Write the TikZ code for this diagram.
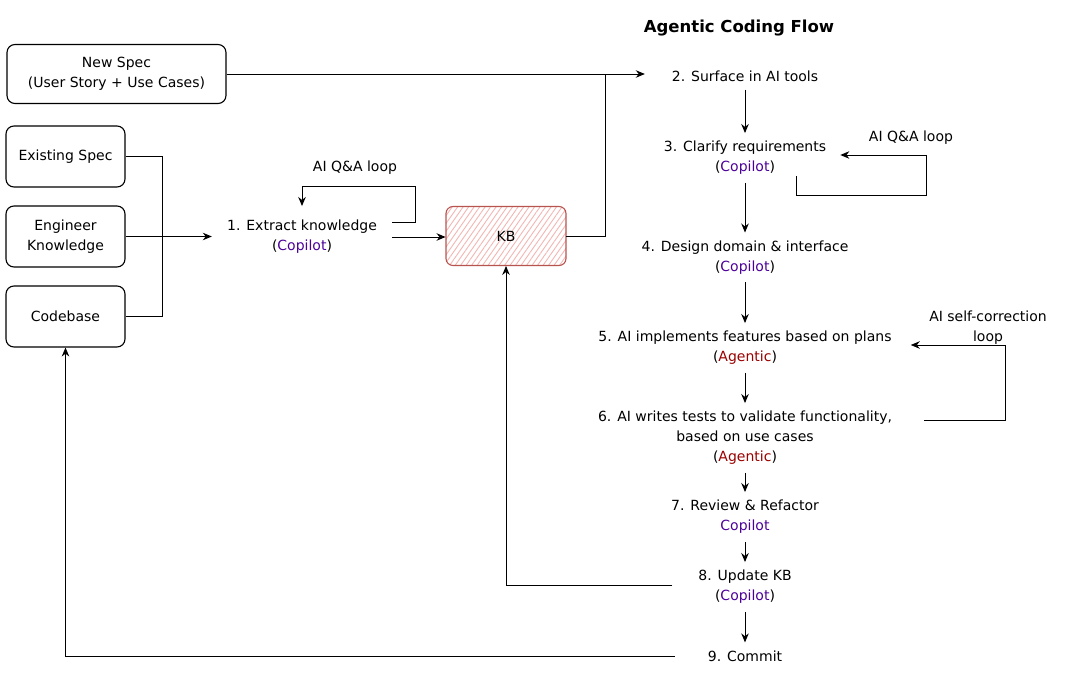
\documentclass[tikz,border=0pt]{standalone}
\usepackage{fontspec}
\setmainfont{DejaVu Sans}
\usetikzlibrary{positioning,calc,arrows.meta,patterns.meta}

\definecolor{copilotpurple}{HTML}{4C0099}
\definecolor{agenticred}{HTML}{990000}
\definecolor{kbborder}{HTML}{B85450}
\definecolor{kbhatch}{HTML}{F2B6B3}

\newcommand{\copilot}{\textcolor{copilotpurple}{Copilot}}
\newcommand{\agentic}{\textcolor{agenticred}{Agentic}}

\tikzset{
  specbox/.style={draw, rounded corners=8pt, line width=1.1pt, align=center,
    minimum width=119pt, minimum height=61pt},
  kbbox/.style={draw=kbborder, rounded corners=7pt, line width=1.1pt,
    minimum width=120pt, minimum height=59pt,
    pattern={Lines[angle=55,distance=4.5pt,line width=0.9pt]}, pattern color=kbhatch},
  stepnode/.style={align=center, inner xsep=4pt, inner ysep=8pt},
  flow/.style={-{Stealth[length=9pt,width=7.5pt]}, line width=0.9pt},
  link/.style={line width=0.9pt},
}

\begin{document}
\begin{tikzpicture}[x=1pt,y=-1pt, font=\fontsize{14}{20}\selectfont]
\useasboundingbox (0,0) rectangle (1068,680);

\node[font=\fontsize{16.5}{20}\selectfont\bfseries] (title) at (739,28) {Agentic Coding Flow};

% inputs
\node[specbox, minimum width=219pt, minimum height=59pt] (newspec) at (116.5,74) {New Spec\\(User Story + Use Cases)};
\node[specbox] (existing) at (65.5,156.5) {Existing Spec};
\node[specbox] (engineer) at (65.5,236.5) {Engineer\\Knowledge};
\node[specbox] (codebase) at (65.5,316.5) {Codebase};

% knowledge extraction
\node[stepnode, minimum width=180pt] (extract) at (302,237) {1. Extract knowledge\\(\copilot)};
\node (extractlabel) at (355,168) {AI Q\&A loop};
\coordinate (extractloop) at (415,186);
\node[kbbox] (kb) at (506,236) {KB};

% flow steps
\node[stepnode, minimum width=200pt] (surface) at (745,76) {2. Surface in AI tools};
\node[stepnode] (clarify) at (745,158) {3. Clarify requirements\\(\copilot)};
\node[stepnode] (design) at (745,257.5) {4. Design domain \& interface\\(\copilot)};
\node[stepnode] (implement) at (745,348) {5. AI implements features based on plans\\(\agentic)};
\node[stepnode] (testing) at (745,438) {6. AI writes tests to validate functionality,\\based on use cases\\(\agentic)};
\node[stepnode] (review) at (745,517) {7. Review \& Refactor\\\copilot};
\node[stepnode, minimum width=145pt] (update) at (745,587) {8. Update KB\\(\copilot)};
\node[stepnode, minimum width=140pt] (commit) at (745,656) {9. Commit};

% loop labels
\node (clarifylabel) at (911,138) {AI Q\&A loop};
\coordinate (qaloop) at (926,195);
\node[align=center] (selflabel) at (988,328) {AI self-correction\\loop};
\coordinate (selfloop) at (1005,345);

% inputs to extraction
\draw[link] (existing.east) -- ++(37,0) |- (codebase.east);
\draw[flow] (engineer.east) -- (engineer.east -| extract.west);
\draw[flow] ([yshift=15pt]extract.east) -| (extractloop) -| ([yshift=6pt]extract.north);
\draw[flow] (extract.east) -- (extract.east -| kb.west);

% into the flow
\draw[flow] (newspec.east) -- (newspec.east -| surface.west);
\draw[link] (kb.east) -| (newspec.east -| 605,0);

% main chain
\draw[flow] (surface) -- (clarify);
\draw[flow] (clarify) -- (design);
\draw[flow] (design) -- (implement);
\draw[flow] (implement) -- (testing);
\draw[flow] (testing) -- (review);
\draw[flow] (review) -- (update);
\draw[flow] (update) -- (commit);

% loops
\draw[flow] ([xshift=51pt,yshift=7pt]clarify.south) |- (qaloop) |- ([xshift=10pt,yshift=3pt]clarify.east);
\draw[flow] ([xshift=28pt,yshift=18pt]testing.east) -| (selfloop) -- ($(implement.east |- selfloop)+(15,0)$);

% back to kb and codebase
\draw[flow] ([yshift=2pt]update.west) -| (kb.south);
\draw[flow] (commit.west) -| (codebase.south);
\end{tikzpicture}
\end{document}
